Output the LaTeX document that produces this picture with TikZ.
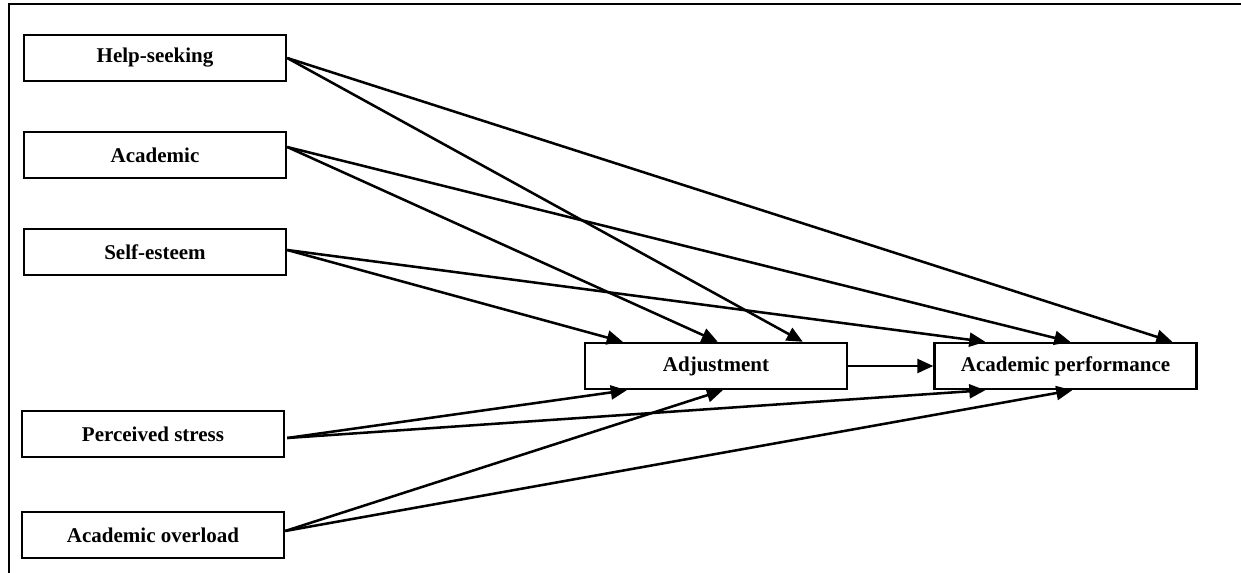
\documentclass[tikz,border=0pt]{standalone}
\usepackage{fontspec}
\setmainfont{Liberation Serif}
\usetikzlibrary{arrows.meta,calc}
\begin{document}
\begin{tikzpicture}[x=0.75pt,y=-0.75pt,
  box/.style={draw,line width=1.8pt,rectangle,minimum width=196.5pt,minimum height=34.5pt,inner sep=0pt,
    font=\fontsize{15.75}{18}\selectfont\bfseries},
  conn/.style={line width=1.9pt,-{Triangle[length=12pt,width=10.5pt]}},
  frame/.style={line width=2pt}]
\useasboundingbox (0,0) rectangle (1241,573);
\coordinate (ftl) at (9,4);
\coordinate (ftr) at (1241,4);
\coordinate (fbl) at (9,573);
\draw[frame] ([xshift=-0.75pt]ftl) -- (ftr);
\draw[frame] (ftl) -- (fbl);

\node[box] (hs) at (155,58) {Help-seeking};
\node[box] (acad) at (155,155) {Academic};
\node[box] (self) at (155,252) {Self-esteem};
\node[box] (ps) at (153,434) {Perceived stress};
\node[box] (ao) at (153,535) {Academic overload};
\node[box] (adj) at (716,366) {Adjustment};
\node[box] (ap) at (1065.5,366) {Academic performance};

% Help-seeking
\draw[conn] (hs.east) -- ($(adj.north west)+(219,0)$);
\draw[conn] (hs.east) -- ($(ap.north west)+(239,0)$);
% Academic
\draw[conn] ($(acad.east)+(0,-8)$) -- ($(adj.north west)+(134,0)$);
\draw[conn] ($(acad.east)+(0,-8)$) -- ($(ap.north west)+(137,0)$);
% Self-esteem
\draw[conn] ($(self.east)+(0,-2)$) -- ($(adj.north west)+(39,0)$);
\draw[conn] ($(self.east)+(0,-2)$) -- ($(ap.north west)+(52,0)$);
% Perceived stress
\draw[conn] ($(ps.east)+(2,4)$) -- ($(adj.south west)+(43,0)$);
\draw[conn] ($(ps.east)+(2,4)$) -- ($(ap.south west)+(52,0)$);
% Academic overload
\draw[conn] ($(ao.east)+(0,-4)$) -- ($(adj.south west)+(139,0)$);
\draw[conn] ($(ao.east)+(0,-4)$) -- ($(ap.south west)+(139,0)$);
% Adjustment -> Academic performance
\draw[conn] (adj.east) -- (ap.west);
\end{tikzpicture}
\end{document}
